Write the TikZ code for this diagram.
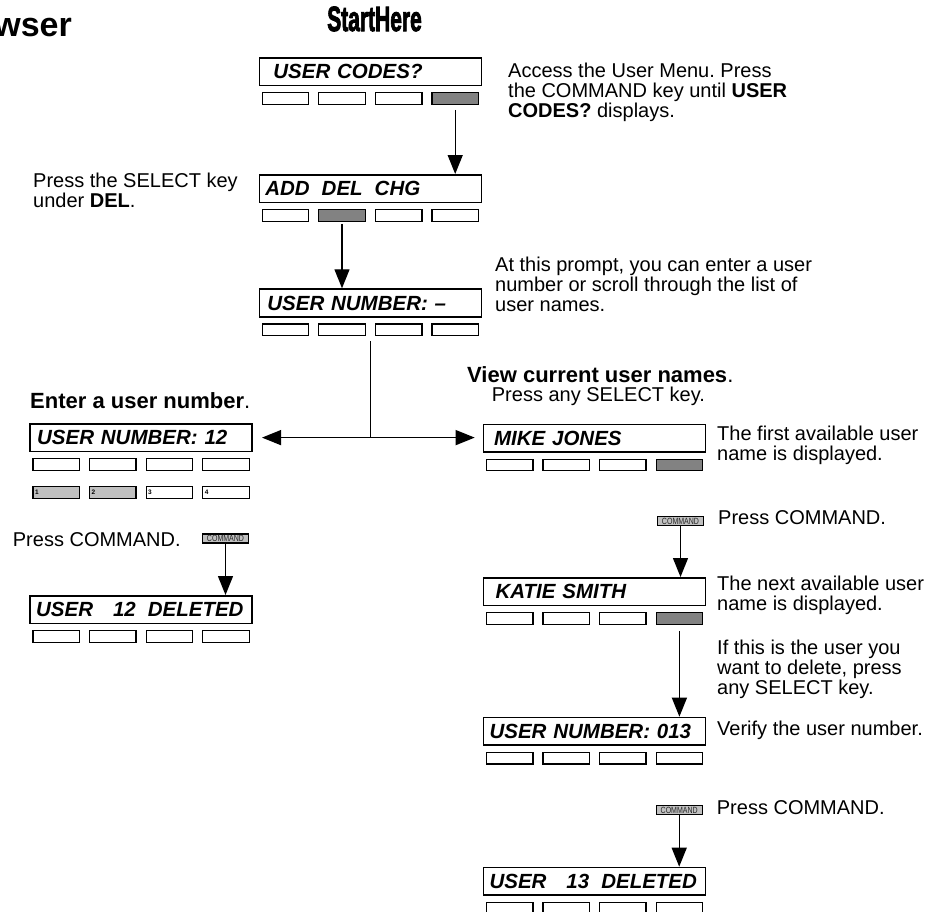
\documentclass[tikz,border=0pt]{standalone}
\usepackage{graphicx}
\usepackage{fontspec}
\setmainfont{Liberation Sans}
\newfontfamily\heavyfont[FakeBold=3]{Liberation Sans}
\usetikzlibrary{arrows.meta}
\definecolor{keydark}{RGB}{130,130,130}
\definecolor{keylight}{RGB}{192,192,192}
\frenchspacing
\tikzset{
 lcd/.style={draw, line width=1.7pt, minimum width=222pt, minimum height=27.5pt,
   inner xsep=6pt, inner ysep=0pt, text width=210pt, align=left,
   text height=14.7pt, text depth=0pt,
   font=\fontsize{20.5pt}{20.5pt}\selectfont\bfseries\itshape, anchor=north west},
 keybox/.style={draw, line width=1.3pt, minimum width=46.5pt, minimum height=11.5pt,
   inner sep=0pt, anchor=north west},
 cmdbtn/.style={draw, line width=1.1pt, fill=keylight, minimum width=46pt,
   minimum height=9pt, inner sep=0pt, text=black!85,
   font=\fontsize{9pt}{9pt}\selectfont},
 body/.style={anchor=north west, inner sep=0pt, align=left,
   font=\frenchspacing\fontsize{20pt}{20pt}\selectfont},
 head/.style={anchor=north west, inner sep=0pt, align=left,
   font=\fontsize{22pt}{22pt}\selectfont},
 conn/.style={line width=1.3pt},
 arr/.style={line width=1.3pt, -{Triangle[length=19pt,width=15pt]}},
 numlab/.style={label={[anchor=west, xshift=2.5pt, inner sep=0pt,
   font=\fontsize{6.5pt}{6.5pt}\selectfont\bfseries]west:#1}},
}
\newcommand\keyrow[7]{%
 \node[keybox,fill=#4] (#1-1) at (#2,#3) {};
 \node[keybox,fill=#5] (#1-2) at ({#2+56.6},#3) {};
 \node[keybox,fill=#6] (#1-3) at ({#2+113.2},#3) {};
 \node[keybox,fill=#7] (#1-4) at ({#2+169.8},#3) {};
}
\begin{document}
\begin{tikzpicture}[x=1pt,y=-1pt]
\useasboundingbox (0,0) rectangle (937,911);
\clip (0,0) rectangle (937,911);

% titles
\node[anchor=base east, inner sep=0pt, font=\fontsize{34pt}{34pt}\selectfont\bfseries] (ttl) at (72,36) {wser};
\node[anchor=base east, inner sep=0pt, font=\fontsize{35pt}{35pt}\selectfont\heavyfont\bfseries] (start) at (422,31) {\scalebox{0.6}[1]{StartHere}};

% displays
\node[lcd] (A) at (258.5,57) {\hspace*{8pt}USER CODES?};
\keyrow{kA}{261.5}{92}{white}{white}{white}{keydark}
\node[lcd] (B) at (258.5,174) {ADD\hspace{12pt}DEL\hspace{12pt}CHG};
\keyrow{kB}{261.5}{209}{white}{keydark}{white}{white}
\node[lcd] (C) at (258.5,288.3) {\hspace*{2pt}USER NUMBER: --};
\keyrow{kC}{261.5}{323.3}{white}{white}{white}{white}

\node[lcd] (D) at (29.3,423) {\hspace*{1pt}USER NUMBER: 12};
\keyrow{kD}{32.3}{458}{white}{white}{white}{white}
\node[keybox,fill=keylight,numlab=1] (nD-1) at (32.3,486) {};
\node[keybox,fill=keylight,numlab=2] (nD-2) at (88.9,486) {};
\node[keybox,fill=white,numlab=3] (nD-3) at (145.5,486) {};
\node[keybox,fill=white,numlab=4] (nD-4) at (202.1,486) {};
\node[cmdbtn] (cmdL) at (225.5,538.5) {\scalebox{0.78}[1]{COMMAND}};
\node[lcd] (F) at (29.3,595) {USER\hspace{20pt}12\hspace{12pt}DELETED};
\keyrow{kF}{32.3}{630}{white}{white}{white}{white}

\node[lcd] (E) at (482.7,423.5) {\hspace*{4.5pt}MIKE JONES};
\keyrow{kE}{485.7}{458.5}{white}{white}{white}{keydark}
\node[cmdbtn] (cmdR) at (680.5,521.3) {\scalebox{0.78}[1]{COMMAND}};
\node[lcd] (G) at (482.7,577) {\hspace*{6pt}KATIE SMITH};
\keyrow{kG}{485.7}{612}{white}{white}{white}{keydark}
\node[lcd] (H) at (482.7,716.7) {USER NUMBER: 013};
\keyrow{kH}{485.7}{751.7}{white}{white}{white}{white}
\node[cmdbtn] (cmdB) at (679.2,810) {\scalebox{0.78}[1]{COMMAND}};
\node[lcd] (I) at (482.7,866.7) {USER\hspace{20pt}13\hspace{12pt}DELETED};
\keyrow{kI}{485.7}{901.7}{white}{white}{white}{white}

% connectors
\draw[arr] ([yshift=-5pt]kA-4.south) -- (kA-4.south |- B.north);
\draw[arr] ([yshift=-2pt]kB-2.south) -- (kB-2.south |- C.north);
\coordinate (split) at (C.south |- D.east);
\draw[conn] ([yshift=-5pt]kC-2.south -| C.south) -- (split);
\draw[arr] (split) -- ([xshift=9pt]D.east);
\draw[arr] (split) -- ([xshift=-8pt]E.west |- split);
\draw[arr] (cmdL.south) -- (cmdL.south |- F.north);
\draw[arr] (cmdR.south) -- (cmdR.south |- G.north);
\draw[arr] ([yshift=-6pt]kG-4.south) -- (kG-4.south |- H.north);
\draw[arr] (cmdB.south) -- (cmdB.south |- I.north);

% texts
\node[body] (tAccess) at (508,62.5) {Access the User Menu. Press\\the COMMAND key until \textbf{USER}\\\textbf{CODES?} displays.};
\node[body] (tSelect) at (33,172.5) {Press the SELECT key\\under \textbf{DEL}.};
\node[body] (tPrompt) at (495,257) {At this prompt, you can enter a user\\number or scroll through the list of\\user names.};
\node[head] (tEnter) at (30,392.5) {\textbf{Enter a user number}.};
\node[head] (tView) at (467,366) {\textbf{View current user names}.};
\node[body] (tPressAny) at (491.7,386.5) {Press any SELECT key.};
\node[body] (tFirst) at (717,425.7) {The first available user\\name is displayed.};
\node[body] (tCmdL) at (12.7,532.4) {Press COMMAND.};
\node[body] (tCmdR) at (718,510.7) {Press COMMAND.};
\node[body] (tNext) at (717,575.7) {The next available user\\name is displayed.};
\node[body] (tIf) at (717,639.7) {If this is the user you\\want to delete, press\\any SELECT key.};
\node[body] (tVerify) at (717,720.7) {Verify the user number.};
\node[body] (tCmdB) at (716.7,800.7) {Press COMMAND.};
\end{tikzpicture}
\end{document}
